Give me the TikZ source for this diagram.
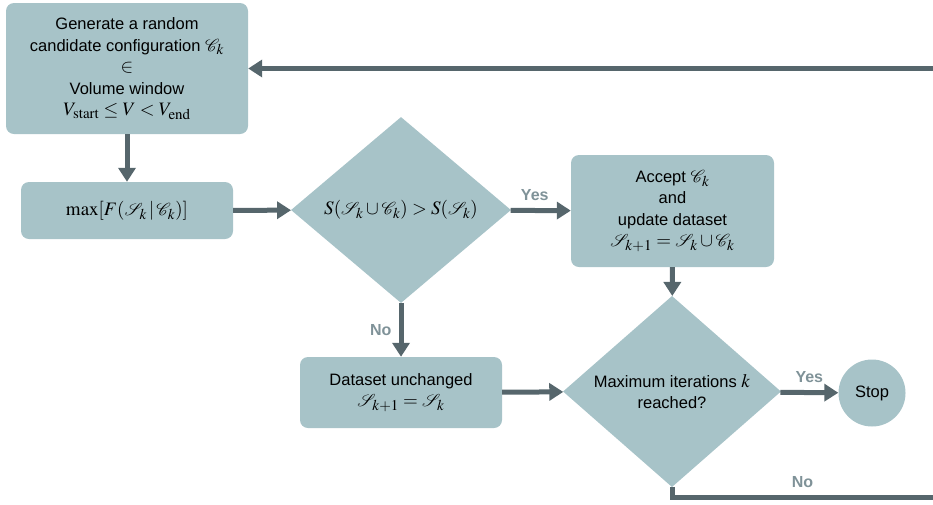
\documentclass[tikz,border=0pt]{standalone}
\usepackage{mathptmx}
\usepackage{amssymb}
\usepackage{mathrsfs}
\usepackage[no-math]{fontspec}
\setmainfont{Liberation Sans}
\DeclareMathSizes{16.5}{19}{15}{11}
\usetikzlibrary{shapes.geometric,arrows.meta}
\definecolor{boxfill}{HTML}{A7C3C8}
\definecolor{arrcol}{HTML}{56666C}
\definecolor{labcol}{HTML}{7F9298}
\tikzset{
  boxnode/.style={draw=none,fill=boxfill,rounded corners=8pt,inner sep=0pt,align=center,
    font=\fontsize{16.5}{21.5}\selectfont},
  decnode/.style={diamond,draw=none,fill=boxfill,inner sep=0pt,align=center,
    font=\fontsize{16.5}{21.5}\selectfont},
  stopnode/.style={circle,draw=none,fill=boxfill,inner sep=0pt,minimum size=67pt,
    font=\fontsize{16.5}{20}\selectfont},
  arr/.style={draw=arrcol,line width=5pt,-{Triangle[length=14pt,width=17pt]}},
  plainline/.style={draw=arrcol,line width=5pt},
  lab/.style={text=labcol,font=\fontsize{16}{18}\selectfont\bfseries,inner sep=0pt}
}
\begin{document}
\begin{tikzpicture}[x=1pt,y=-1pt]
\useasboundingbox (0,0) rectangle (933,504);
\node[boxnode,minimum width=242pt,minimum height=131pt] (b1) at (127,68.5)
  {Generate a random\\ candidate configuration $\mathscr{C}_k$\\ $\in$\\ Volume window\\ $V_{\mathrm{start}} \leq V < V_{\mathrm{end}}$};
\node[boxnode,minimum width=212pt,minimum height=57pt] (b2) at (127,210.5)
  {$\max[F(\mathscr{S}_k\,|\,\mathscr{C}_k)]$};
\node[decnode,minimum width=220pt,minimum height=186pt] (d1) at (401,210)
  {$S(\mathscr{S}_k \cup \mathscr{C}_k) > S(\mathscr{S}_k)$};
\node[boxnode,minimum width=203pt,minimum height=112pt] (b3) at (672.5,211)
  {Accept $\mathscr{C}_k$\\ and\\ update dataset\\ $\mathscr{S}_{k+1} = \mathscr{S}_k \cup \mathscr{C}_k$};
\node[boxnode,minimum width=202pt,minimum height=71pt] (b4) at (401,392.5)
  {Dataset unchanged\\ $\mathscr{S}_{k+1} = \mathscr{S}_k$};
\node[decnode,minimum width=218pt,minimum height=187pt] (d2) at (672,391.5)
  {Maximum iterations $k$\\ reached?};
\node[stopnode] (stop) at (872,393) {Stop};
\coordinate (r1) at (933,68.5);
\coordinate (r2) at (933,497);
\draw[arr] (b1) -- (b2);
\draw[arr] (b2) -- (d1);
\draw[arr] (d1) -- node[lab,above=7pt,xshift=-6pt] {Yes} (b3);
\draw[arr] (b3) -- (d2);
\draw[arr] (d1) -- node[lab,left=7pt] {No} (b4);
\draw[arr] (b4) -- (d2);
\draw[arr] (d2) -- node[lab,above=7pt] {Yes} (stop);
\draw[plainline] (d2.south) |- node[lab,pos=0.75,above=7pt] {No} (r2);
\draw[arr] (r1) -- (b1);
\end{tikzpicture}
\end{document}
